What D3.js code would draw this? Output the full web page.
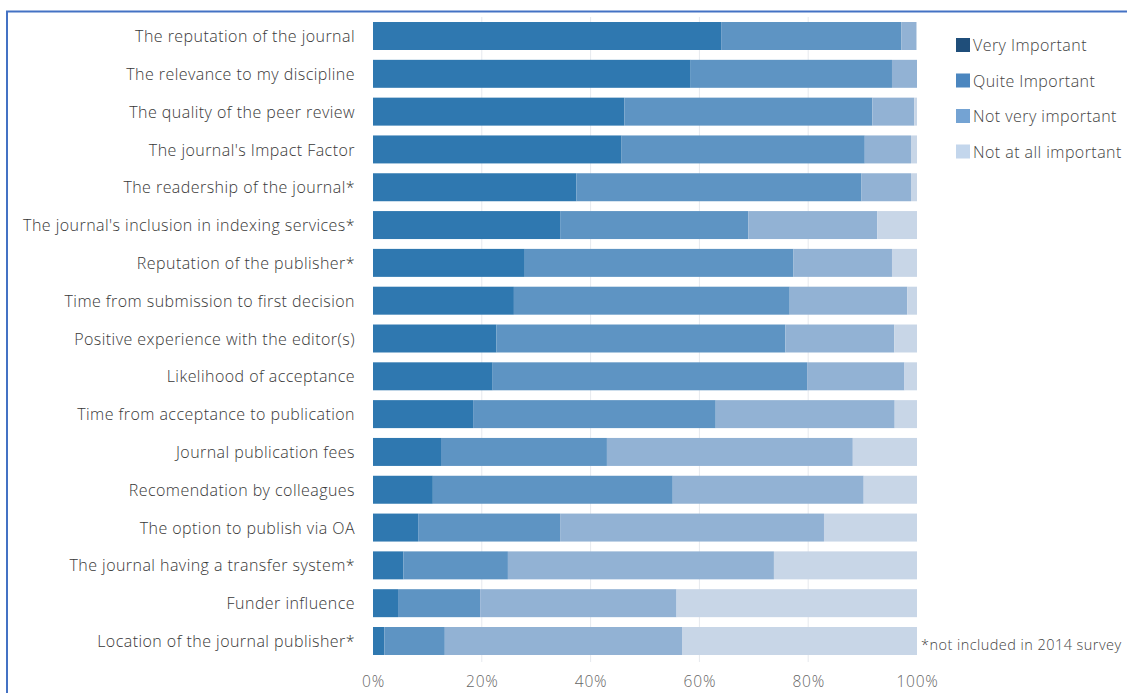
<!DOCTYPE html>
<html>
<head>
<meta charset="utf-8">
<script src="https://cdn.jsdelivr.net/npm/d3@7"></script>
<style>
  html, body { margin: 0; padding: 0; background: #fff; }
  svg { display: block; }
  text { font-family: "Open Sans", "Liberation Sans", Arial, sans-serif; font-weight: 300; }
</style>
</head>
<body>
<div class="container"></div>
<script>
var w = 1127;
var h = 693;

// factors, top to bottom
var factors = [
  "The reputation of the journal",
  "The relevance to my discipline",
  "The quality of the peer review",
  "The journal's Impact Factor",
  "The readership of the journal*",
  "The journal's inclusion in indexing services*",
  "Reputation of the publisher*",
  "Time from submission to first decision",
  "Positive experience with the editor(s)",
  "Likelihood of acceptance",
  "Time from acceptance to publication",
  "Journal publication fees",
  "Recomendation by colleagues",
  "The option to publish via OA",
  "The journal having a transfer system*",
  "Funder influence",
  "Location of the journal publisher*"
];

var levels = ["Very Important", "Quite Important", "Not very important", "Not at all important"];

// percentages per level (same order as factors)
var veryImportant   = [64.0, 58.4, 46.2, 45.7, 37.4, 34.4, 27.9, 25.9, 22.7, 22.0, 18.4, 12.5, 11.0, 8.3, 5.6, 4.6, 2.1];
var quiteImportant  = [33.1, 37.0, 45.6, 44.7, 52.4, 34.6, 49.4, 50.7, 53.1, 57.8, 44.6, 30.5, 44.1, 26.1, 19.2, 15.1, 11.1];
var notVery         = [2.8, 4.6, 7.7, 8.5, 9.1, 23.7, 18.1, 21.6, 20.0, 17.9, 32.9, 45.2, 35.1, 48.5, 48.9, 36.1, 43.6];
var notAtAll        = [0.1, 0.0, 0.5, 1.1, 1.1, 7.3, 4.6, 1.8, 4.2, 2.3, 4.1, 11.8, 9.8, 17.1, 26.3, 44.2, 43.2];

var xTicks = [0, 20, 40, 60, 80, 100];

var barColors = ["#2f78b0", "#5e94c3", "#92b2d4", "#c8d6e7"];
var legendColors = ["#1f4e7a", "#4b86bf", "#74a3d3", "#c3d6ec"];

var rows = factors.map(function(f, i){
  return {name: f, vals: [veryImportant[i], quiteImportant[i], notVery[i], notAtAll[i]]};
});

var svg = d3.select(".container").append("svg").attr("width", w).attr("height", h);

// frame
svg.append("path")
  .attr("d", "M7,693 V11.5 H1127")
  .attr("fill", "none")
  .attr("stroke", "#4472c4")
  .attr("stroke-width", 2);

var x = d3.scaleLinear().domain([0, 100]).range([373, 917]);
var y = d3.scaleBand().domain(factors).range([17.1, 659.9]).paddingInner(0.26).paddingOuter(0.13);

// gridlines
svg.append("g").selectAll("line").data(xTicks.slice(1, -1)).enter().append("line")
  .attr("x1", function(d){ return x(d); })
  .attr("x2", function(d){ return x(d); })
  .attr("y1", 17)
  .attr("y2", 662)
  .attr("stroke", "#e6e9ee")
  .attr("stroke-width", 1);

// stacked bars
var row = svg.append("g").selectAll("g").data(rows).enter().append("g");
row.selectAll("rect").data(function(d){
  var acc = 0;
  return d.vals.map(function(v, k){
    var s = {k: k, start: acc, end: acc + v, name: d.name};
    acc += v;
    return s;
  });
}).enter().append("rect")
  .attr("x", function(d){ return x(d.start); })
  .attr("width", function(d){ return Math.max(0, x(d.end) - x(d.start)); })
  .attr("y", function(d){ return y(d.name); })
  .attr("height", y.bandwidth())
  .attr("fill", function(d){ return barColors[d.k]; });

// category labels
var yAxis = d3.axisLeft(y).tickSize(0).tickPadding(0);
var yg = svg.append("g").attr("transform", "translate(355,1)").call(yAxis);
yg.select(".domain").remove();
yg.selectAll("text")
  .attr("font-size", 16)
  .attr("font-family", "Open Sans, Liberation Sans, Arial, sans-serif")
  .attr("font-weight", 300)
  .attr("letter-spacing", "0.45px")
  .attr("fill", "#383838");

// x axis labels
var xAxis = d3.axisBottom(x).tickValues(xTicks).tickSize(0).tickPadding(0)
  .tickFormat(function(d){ return d + "%"; });
var xg = svg.append("g").attr("transform", "translate(0,676)").call(xAxis);
xg.select(".domain").remove();
xg.selectAll("text")
  .attr("font-size", 15.5)
  .attr("font-family", "Open Sans, Liberation Sans, Arial, sans-serif")
  .attr("font-weight", 300)
  .attr("letter-spacing", "0.8px")
  .attr("fill", "#666");

// legend
var lg = svg.append("g").selectAll("g").data(levels).enter().append("g")
  .attr("transform", function(d, i){ return "translate(956," + (38 + i * 35.5) + ")"; });
lg.append("rect").attr("width", 14).attr("height", 14)
  .attr("fill", function(d, i){ return legendColors[i]; });
lg.append("text").attr("x", 17).attr("y", 13)
  .attr("font-size", 16)
  .attr("letter-spacing", "0.45px")
  .attr("fill", "#444")
  .text(function(d){ return d; });

// footnote
svg.append("text")
  .attr("x", 921)
  .attr("y", 650)
  .attr("font-size", 14.5)
  .attr("letter-spacing", "0.45px")
  .attr("fill", "#444")
  .text("*not included in 2014 survey");
</script>
</body>
</html>
